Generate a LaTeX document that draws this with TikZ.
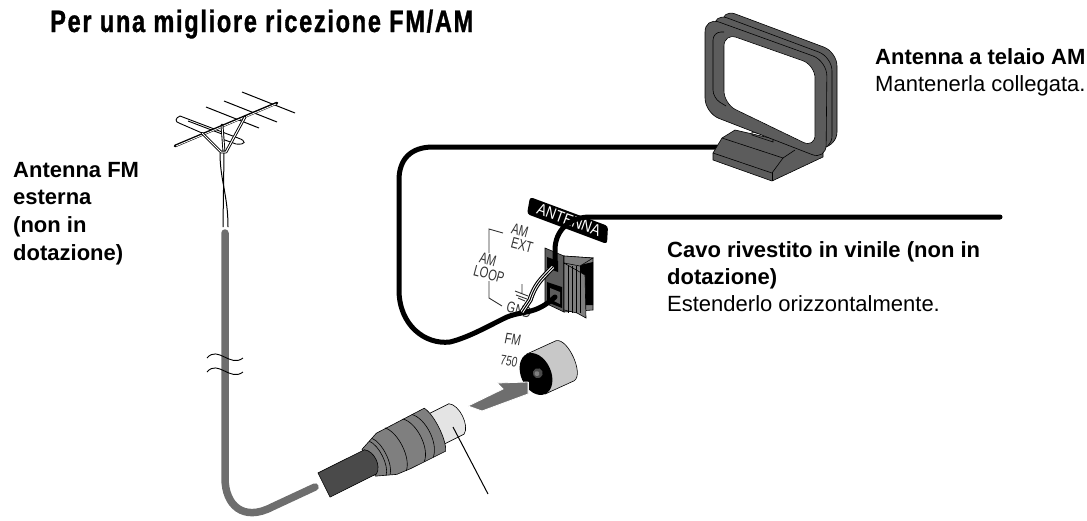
\documentclass[tikz,border=0pt]{standalone}
\usepackage{fontspec}
\setmainfont{Liberation Sans}
\newfontfamily\titlefont[FakeStretch=0.76,LetterSpace=5.5,FakeBold=1]{Liberation Sans Bold}
\definecolor{loopgray}{HTML}{5C5C5C}
\definecolor{cablegray}{HTML}{6E6E6E}
\definecolor{midgray}{HTML}{7F7F7F}
\definecolor{darkplug}{HTML}{4A4A4A}
\definecolor{tipgray}{HTML}{E4E4E4}
\definecolor{jackgray}{HTML}{C8C8C8}
\definecolor{labelgray}{HTML}{333333}
\tikzset{
 x=1pt,y=-1pt,
 lbl/.style={anchor=base west,inner sep=0pt,font=\fontsize{22}{27}\selectfont,align=left},
 lblb/.style={lbl,font=\fontsize{22}{27}\selectfont\bfseries},
 panel/.style={inner sep=0pt,font=\fontsize{15.5}{15.5}\selectfont,text=labelgray,rotate=-15,xscale=0.72},
 wire/.style={line width=5pt,line cap=round,line join=round},
 outl/.style={draw=black,line width=0.6pt},
 grayline/.style={draw=labelgray,line width=0.9pt},
}
\begin{document}
\begin{tikzpicture}
\useasboundingbox (0,0) rectangle (1087,520);
% texts
\node[anchor=base west,inner sep=0pt,font=\fontsize{31}{31}\selectfont\titlefont] (title) at (50,32) {Per una migliore ricezione FM/AM};
\node[lblb] (t1) at (875,64) {Antenna a telaio AM};
\node[lbl] (t2) at (875,91) {Mantenerla collegata.};
\node[lblb] (t3) at (13,177) {Antenna FM};
\node[lblb] (t4) at (13,204) {esterna};
\node[lblb] (t5) at (13,232) {(non in};
\node[lblb] (t6) at (13,260) {dotazione)};
\node[lblb] (t7) at (667,257) {Cavo rivestito in vinile (non in};
\node[lblb] (t8) at (667,284) {dotazione)};
\node[lbl] (t9) at (667,311) {Estenderlo orizzontalmente.};
% FM antenna
\foreach \a/\b in {242/92,224/101,206/107}{\draw[line width=1pt] (\a,\b) -- (\a+53,\b+21);}
\draw[line width=0.9pt] (180,116) .. controls (175,118) and (175,122) .. (179,123) -- (202,133);
\draw[line width=0.9pt] (180,116) -- (238,138) .. controls (247,141) and (246,145) .. (236,144) -- (222,139);
\draw[line width=0.9pt] (188,121) -- (222,134);
\draw[line width=2.7pt,line cap=round] (175,146) -- (277,103);
\draw[line width=0.8pt,white] (176,146) -- (276,104);
\draw[line width=2.8pt,line cap=round] (222,125) -- (224,152);
\draw[line width=1pt,white] (222,126) -- (224,152);
\draw[line width=2.8pt,line cap=round,line join=round] (202,133) -- (221,152) -- (226,152) -- (245,117);
\draw[line width=1pt,white,line join=round] (202,133) -- (221,152) -- (226,152) -- (245,117);
\draw[line width=1pt] (220,153) .. controls (220,180) and (228,195) .. (228,227);
\draw[line width=1pt] (224,153) -- (223,227);
% grey FM cable
\draw[cablegray,line width=7.5pt,line cap=round] (225,233) -- (225,478) .. controls (225,505) and (243,522) .. (272,507) -- (315,487);
% break marks
\draw[line width=0.9pt] (207,358) .. controls (218,345) and (230,368) .. (243,358);
\draw[line width=0.9pt] (207,372) .. controls (218,359) and (230,382) .. (243,372);
% plug
\begin{scope}[shift={(324,485)},rotate=26.5]
 \draw[outl,fill=tipgray] (118,-17) -- (148,-17) .. controls (157,-12) and (157,12) .. (148,17) -- (118,17) -- cycle;
 \draw[outl,fill=midgray] (50,-15) -- (70,-23) -- (124,-24) .. controls (130,-14) and (130,14) .. (124,24) -- (85,24) -- (70,23) -- (50,15) -- cycle;
 \foreach \t/\r/\k in {80/24/10,100/24/11,110/24/11}{
 \draw[line width=0.6pt] (\t,-\r) .. controls (\t+\k,-\r*0.6) and (\t+\k,\r*0.6) .. (\t,\r);}
 \foreach \t/\r/\k in {60/19/7,64/20/7}{
 \draw[line width=0.6pt] (\t,-\r) .. controls (\t+\k,-\r*0.6) and (\t+\k,\r*0.6) .. (\t,\r);}
 \draw[outl,fill=darkplug] (0,-13.5) -- (52,-13.5) .. controls (60,-8) and (60,8) .. (52,13.5) -- (0,13.5) -- cycle;
\end{scope}
\coordinate (ptrA) at (453,427);
\coordinate (ptrB) at (488,494);
\draw[line width=1pt] (ptrA) -- (ptrB);
% FM socket labels
\node[panel,rotate=5] (fm) at (513,339) {FM};
\node[panel,rotate=5,font=\fontsize{14}{14}\selectfont] (ohm) at (509,361) {750};
% jack
\begin{scope}[shift={(536,374)},rotate=24.5]
 \draw[outl,fill=jackgray] (0,-22) -- (32,-22) .. controls (44,-20) and (44,20) .. (32,22) -- (0,22) -- cycle;
 \fill[black] (0,0) ellipse (15 and 22);
 \fill[darkplug] (2,0) circle (5);
 \fill[midgray] (1,0) circle (2.5);
\end{scope}
% grey arrow
\fill[white] (510,382) rectangle (528.5,405);
\draw[fill=cablegray,draw=white,line width=0.8pt] (468,406) -- (503,389) -- (497,383) -- (528,382) -- (528,394) -- (482,411) -- cycle;
% terminal block
\draw[outl,fill=loopgray] (545,248) -- (564,256) -- (564,312) -- (545,303) -- cycle;
\fill[black] (547,257) -- (558,261) -- (558,272) -- (547,268) -- cycle;
\fill[black] (547,282) -- (562,287) -- (562,308) -- (547,302) -- cycle;
\fill[loopgray] (550,288) -- (560,292) -- (560,304) -- (550,299) -- cycle;
\draw[outl,fill=midgray] (564,256) -- (593,258) -- (593,310) -- (564,312) -- cycle;
\fill[black] (580,265) -- (593,262) -- (593,305) -- (580,305) -- cycle;
\draw[outl,fill=midgray] (564,256) -- (593,258) -- (580,266) -- (564,263) -- cycle;
\draw[outl,fill=midgray] (564,263) -- (585,275) -- (586,318) -- (577,313) -- (564,310) -- cycle;
\foreach \x in {568,572,576,580}{\draw[line width=0.5pt] (\x,266) -- (\x,313);}
% ANTENNA band
\fill[black,rounded corners=3pt] (530,197) -- (608,226) -- (607,244) -- (527,214) -- cycle;
\node[inner sep=0pt,rotate=-20,xscale=0.87,text=white,font=\fontsize{16}{16}\selectfont] (ant) at (569,220) {ANTENNA};
% panel labels
\node[panel] (amext) at (520,231) {AM};
\node[panel] (ext) at (522,245) {EXT};
\node[panel] (am) at (488,260) {AM};
\node[panel] (loop) at (489,274) {LOOP};
\node[panel] (gnd) at (519,310) {GND};
\draw[grayline] (503,233) -- (489,229) -- (489,253);
\draw[grayline] (489,281) -- (489,298) -- (502,306);
\draw[grayline] (522,284) -- (522,293) (515,291) -- (528,296) (516,295) -- (527,299) (518,298) -- (525,301);
% AM loop wire
\draw[wire] (717,147) -- (433,147) .. controls (410,147) and (399,160) .. (399,180) -- (399,290) .. controls (399,325) and (425,345) .. (450,342) .. controls (470,337) and (490,325) .. (507,317) .. controls (525,310) and (535,315) .. (555,297);
% vinyl wire
\draw[wire] (1000,217) -- (590,217) .. controls (570,217) and (555,230) .. (555,250) -- (555,266);
\draw[line width=5.2pt,line cap=round] (553,267) .. controls (540,280) and (535,285) .. (530,300) -- (522,312);
\draw[white,line width=3pt] (553,267) .. controls (540,280) and (535,285) .. (530,300) -- (522,312);
\draw[line width=1pt] (553,267) .. controls (540,280) and (535,285) .. (530,300) -- (522,312);
% AM loop antenna: rear loops
\draw[outl,fill=loopgray,rounded corners=14pt] (722,9) -- (837,52) -- (837,146) -- (800,150) -- (722,100) -- cycle;
\draw[outl,fill=loopgray,rounded corners=14pt] (714,13) -- (832,57) -- (832,150) -- (800,150) -- (714,100) -- cycle;
% base
\draw[outl,fill=loopgray] (735,130) -- (722,138) -- (713,153) -- (713,160) -- (772,181) -- (823,157) -- (823,150) -- cycle;
\draw[outl] (722,138) -- (783,158) -- (772,173) -- (713,153);
\draw[outl] (772,173) -- (772,181);
\draw[outl] (783,158) -- (795,150);
\draw[outl] (752,132) -- (773,137) -- (773,142) -- (752,135) -- cycle;
% front loop
\draw[outl,fill=loopgray,rounded corners=15pt] (705,17) -- (827,61) -- (826,160) -- (705,113) -- cycle;
\draw[outl,fill=white,rounded corners=13pt] (724,33) -- (815,65) -- (815,148) -- (724,104) -- cycle;
\draw[outl,rounded corners=8pt] (724,32) -- (713,32) -- (713,98) -- (726,106);
\end{tikzpicture}
\end{document}
